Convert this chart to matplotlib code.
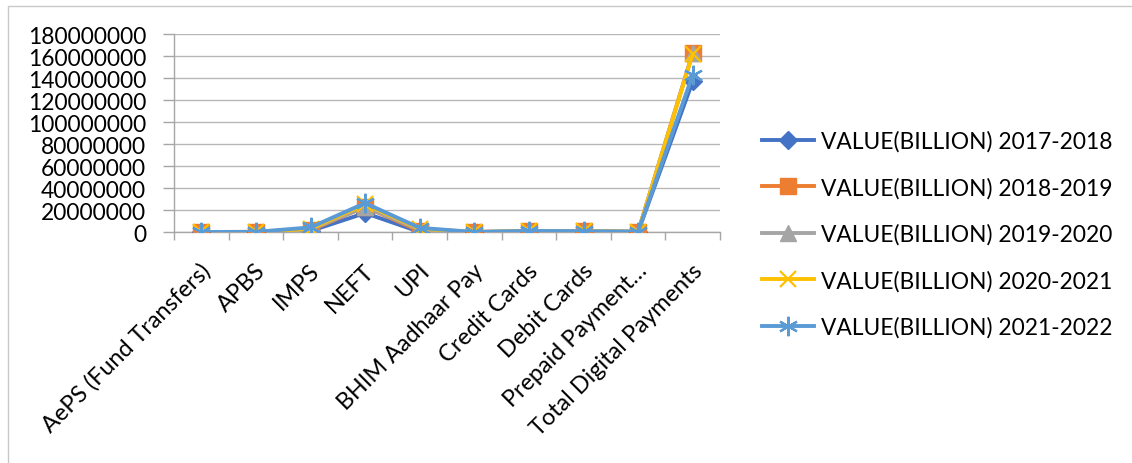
import numpy as np
import matplotlib
matplotlib.use('Agg')
import matplotlib.pyplot as plt
import matplotlib.transforms as mtransforms
from matplotlib.patches import Rectangle

plt.rcParams['font.family'] = ['Lato', 'DejaVu Sans']

categories = ['AePS (Fund Transfers)', 'APBS', 'IMPS', 'NEFT', 'UPI',
              'BHIM Aadhaar Pay', 'Credit Cards', 'Debit Cards',
              'Prepaid Payment\u2026', 'Total Digital Payments']

years = ['2017-2018', '2018-2019', '2019-2020', '2020-2021', '2021-2022']

value_2017_18 = [390, 38900, 893000, 17220000, 109800, 100, 460000, 460000, 140000, 137000000]
value_2018_19 = [480, 86300, 1590000, 22790000, 877000, 1100, 600000, 590000, 210000, 163000000]
value_2019_20 = [610, 99400, 2340000, 22940000, 2130000, 2300, 730000, 700000, 220000, 162500000]
value_2020_21 = [950, 111000, 2940000, 25130000, 3000000, 2500, 630000, 660000, 200000, 162000000]
value_2021_22 = [1100, 129000, 4170000, 26300000, 3800000, 3000, 970000, 730000, 290000, 143000000]

series = [value_2017_18, value_2018_19, value_2019_20, value_2020_21, value_2021_22]
colors = ['#4472C4', '#ED7D31', '#A5A5A5', '#FFC000', '#5B9BD5']
markers = ['D', 's', '^', 'x', (6, 2, 0)]
msizes = [9, 11, 11, 12, 14]

fig = plt.figure(figsize=(11.32, 4.64), dpi=100)
ax = fig.add_axes([174 / 1132, 1 - 233 / 464, 546 / 1132, 198 / 464])

# outer chart border (left and top edges only visible)
fig.patches.append(Rectangle((8 / 1132, -0.1), 1.2, 1 - 7 / 464 + 0.1,
                             transform=fig.transFigure, fill=False,
                             edgecolor='#c8c8c8', linewidth=1))

x = np.arange(len(categories))
for vals, yr, c, m, ms in zip(series, years, colors, markers, msizes):
    thin = m == 'x' or isinstance(m, tuple)
    ax.plot(x, vals, color=c, linewidth=2.8, marker=m, markersize=ms,
            markeredgecolor=c, markeredgewidth=1.6 if thin else 1,
            label=f'VALUE(BILLION) {yr}', zorder=3)

ax.set_xlim(-0.5, len(categories) - 0.5)
ax.set_ylim(0, 180000000)
ax.set_yticks(np.arange(0, 180000001, 20000000))
ax.set_yticklabels([f'{v:d}' for v in range(0, 180000001, 20000000)])
ax.yaxis.grid(True, color='#b8b8b8', linewidth=1)
ax.set_axisbelow(True)

ax.set_xticks(x)
ax.set_xticklabels(categories, rotation=45, ha='right', va='center',
                   rotation_mode='anchor')
ax.set_xticks(np.arange(-0.5, len(categories)), minor=True)
ax.tick_params(axis='x', which='major', length=0, pad=25, labelsize=16.8)
ax.tick_params(axis='x', which='minor', length=6, color='#a6a6a6', width=1)
ax.tick_params(axis='y', length=8, color='#a6a6a6', width=1, pad=12, labelsize=16.4)
# nudge rotated category labels a little to the right
shift = mtransforms.ScaledTranslation(6 / 100, 0, fig.dpi_scale_trans)
for lbl in ax.get_xticklabels():
    lbl.set_transform(lbl.get_transform() + shift)

for s in ['top', 'right']:
    ax.spines[s].set_visible(False)
for s in ['left', 'bottom']:
    ax.spines[s].set_color('#a6a6a6')
    ax.spines[s].set_linewidth(1)

fig.legend(loc='center left', bbox_to_anchor=(762 / 1132, 1 - 235 / 464),
           frameon=False, fontsize=16.4, handlelength=2.3, handletextpad=0.3,
           borderpad=0, borderaxespad=0, labelspacing=1.1)

fig.savefig('out.png', dpi=100)
